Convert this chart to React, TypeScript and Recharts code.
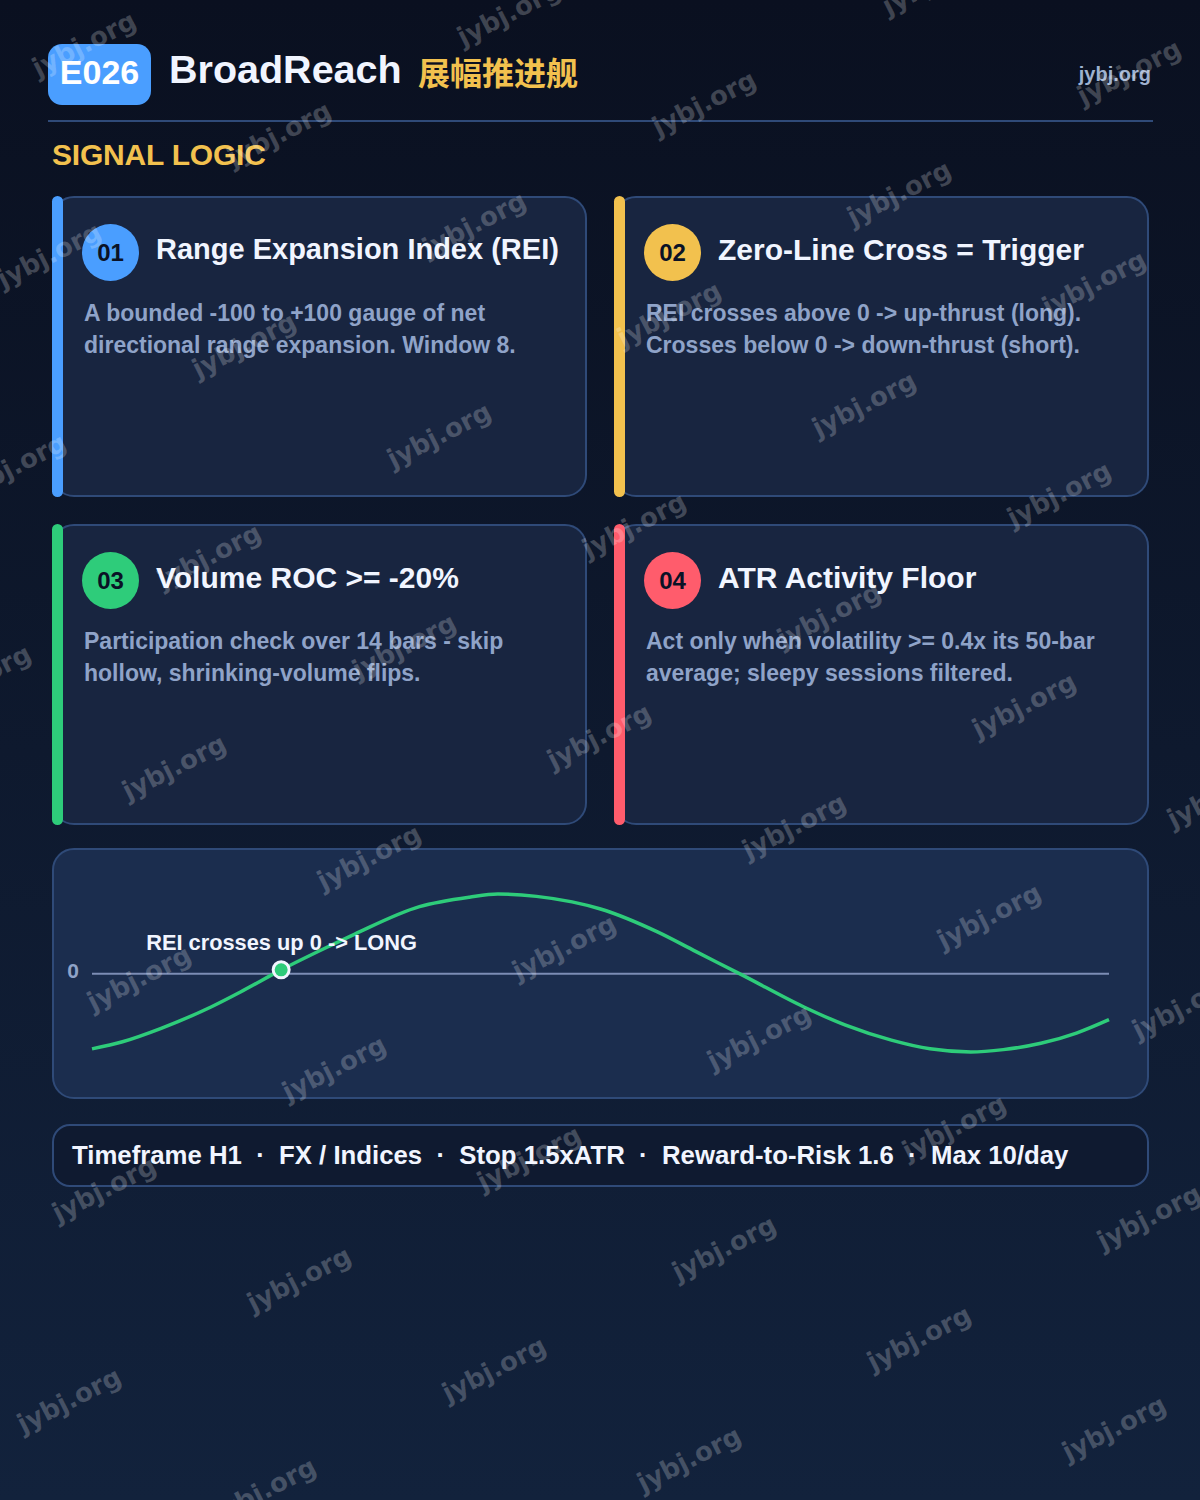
import { LineChart, Line, XAxis, YAxis, ReferenceLine, ReferenceDot, Label } from "recharts"

// REI curve: t is 0-100 across the panel, rei is the gauge value
const curveT = [0, 3, 6.8, 11.7, 14.6, 18.6, 23, 25.8, 32.2, 37.1, 39.9, 43.7, 47.2, 50, 55.6, 59.4, 64, 70, 74.1, 78.6, 82.4, 86.4, 89.6, 93.3, 96.8, 100]
const curveRei = [-95, -86, -69, -42, -23, 5, 33, 50, 85, 97, 101, 98, 91, 82, 53, 28, -2, -42, -65, -84, -95, -99, -96, -88, -75, -58]
const curveData = curveT.map((t, i) => ({ t, rei: curveRei[i] }))

const crossT = 18.6
const crossRei = 5
const yTicks = [0]

const cardNums = ["01", "02", "03", "04"]
const cardTitles = ["Range Expansion Index (REI)", "Zero-Line Cross = Trigger", "Volume ROC >= -20%", "ATR Activity Floor"]
const cardLines = [
  ["A bounded -100 to +100 gauge of net", "directional range expansion. Window 8."],
  ["REI crosses above 0 -> up-thrust (long).", "Crosses below 0 -> down-thrust (short)."],
  ["Participation check over 14 bars - skip", "hollow, shrinking-volume flips."],
  ["Act only when volatility >= 0.4x its 50-bar", "average; sleepy sessions filtered."],
]
const cardColors = ["#4a9eff", "#f2c14e", "#2ecc7a", "#ff5c6c"]
const footerItems = ["Timeframe H1", "FX / Indices", "Stop 1.5xATR", "Reward-to-Risk 1.6", "Max 10/day"]

const FONT = '"Liberation Sans", Arial, sans-serif'
const BORDER = "#2f4a78"

function Card({ index }: { index: number }) {
  const left = index % 2 === 0 ? 52 : 614
  const top = index < 2 ? 196 : 524
  return (
    <div style={{ position: "absolute", left, top, width: 535, height: 301 }}>
      <div style={{ position: "absolute", inset: 0, background: "#182540", border: "2px solid " + BORDER, borderRadius: 22, boxSizing: "border-box" }} />
      <div style={{ position: "absolute", left: 0, top: 0, width: 11, height: 301, background: cardColors[index], borderRadius: 6 }} />
      <div style={{ position: "absolute", left: 30, top: 28, width: 57, height: 57, borderRadius: 29, background: cardColors[index], color: "#0a1226", fontSize: 24, fontWeight: 700, lineHeight: "57px", textAlign: "center" }}>
        {cardNums[index]}
      </div>
      <div style={{ position: "absolute", left: 104, top: index === 0 ? 33 : 34, fontSize: index === 0 ? 29 : 30, fontWeight: 700, color: "#f1f5ff", lineHeight: "40px", whiteSpace: "nowrap" }}>
        {cardTitles[index]}
      </div>
      {cardLines[index].map((line, i) => (
        <div key={i} style={{ position: "absolute", left: 32, top: 101 + i * 32, fontSize: 23, fontWeight: 700, color: "#8fa3c8", lineHeight: "32px", whiteSpace: "nowrap" }}>
          {line}
        </div>
      ))}
    </div>
  )
}

function ReiChart() {
  return (
    <div style={{ position: "absolute", left: 52, top: 848, width: 1097, height: 251, background: "#1b2d4e", border: "2px solid " + BORDER, borderRadius: 22, boxSizing: "border-box" }}>
      <div style={{ position: "absolute", left: -2, top: -2 }}>
        <LineChart width={1097} height={250} data={curveData} margin={{ top: 46, right: 40, bottom: 46, left: 0 }}>
          <XAxis dataKey="t" type="number" domain={[0, 100]} hide />
          <YAxis
            type="number"
            domain={[-99, 101]}
            ticks={yTicks}
            width={40}
            axisLine={false}
            tickLine={false}
            tickMargin={7}
            tick={{ fill: "#8fa3c8", fontSize: 21, fontWeight: 700, fontFamily: FONT, dy: -3 }}
          />
          <ReferenceLine y={0} stroke="#7c8db5" strokeWidth={2} />
          <Line type="monotone" dataKey="rei" stroke="#2ecc7a" strokeWidth={3.5} dot={false} isAnimationActive={false} />
          <ReferenceDot x={crossT} y={crossRei} r={8} fill="#2ecc7a" stroke="#f1f5ff" strokeWidth={3}>
            <Label
              content={({ viewBox }: any) => (
                <text x={viewBox.x - 127} y={viewBox.y - 12} fill="#f1f5ff" fontSize={21.8} fontWeight={700} fontFamily={FONT}>
                  REI crosses up 0 -&gt; LONG
                </text>
              )}
            />
          </ReferenceDot>
        </LineChart>
      </div>
    </div>
  )
}

function Watermarks() {
  const marks = []
  for (let i = -4; i < 11; i++) {
    for (let j = -3; j < 9; j++) {
      const x = 84 + 195 * i - 35 * j
      const y = 44 + 90 * i + 211 * j
      if (x < -80 || x > 1280 || y < -40 || y > 1540) continue
      marks.push(
        <div key={i + "_" + j} style={{ position: "absolute", left: x - 100, top: y - 20, width: 200, height: 40, lineHeight: "40px", textAlign: "center", fontFamily: '"DejaVu Sans", sans-serif', fontSize: 26, fontWeight: 700, color: "rgba(255,255,255,0.22)", transform: "rotate(-27deg)", whiteSpace: "nowrap" }}>
          jybj.org
        </div>
      )
    }
  }
  return <div style={{ position: "absolute", left: 0, top: 0, width: 1200, height: 1500, overflow: "hidden", pointerEvents: "none" }}>{marks}</div>
}

export default function App() {
  return (
    <div style={{ position: "absolute", left: 0, top: 0, width: 1200, height: 1500, overflow: "hidden", fontFamily: FONT, background: "linear-gradient(180deg, #0a1020 0%, #12223c 100%)" }}>
      <div style={{ position: "absolute", left: 48, top: 44, width: 103, height: 61, background: "#4a9eff", borderRadius: 14, color: "#fff", fontSize: 34, fontWeight: 700, lineHeight: "57px", textAlign: "center" }}>E026</div>
      <div style={{ position: "absolute", left: 169, top: 44, fontSize: 39.5, fontWeight: 700, color: "#f1f5ff", lineHeight: "50px", whiteSpace: "nowrap" }}>BroadReach</div>
      <div style={{ position: "absolute", left: 418, top: 49, fontSize: 32, fontWeight: 700, color: "#f2c14e", lineHeight: "44px", whiteSpace: "nowrap", fontFamily: '"Noto Sans CJK SC", sans-serif' }}>展幅推进舰</div>
      <div style={{ position: "absolute", right: 49, top: 62, fontSize: 20, fontWeight: 700, color: "#9fb2d0", lineHeight: "24px" }}>jybj.org</div>
      <div style={{ position: "absolute", left: 48, top: 120, width: 1105, height: 2, background: BORDER }} />
      <div style={{ position: "absolute", left: 52, top: 136, fontSize: 30, fontWeight: 700, color: "#f2c14e", lineHeight: "38px", whiteSpace: "nowrap", letterSpacing: -0.2 }}>SIGNAL LOGIC</div>

      {cardNums.map((_, i) => <Card key={i} index={i} />)}

      <ReiChart />

      <div style={{ position: "absolute", left: 52, top: 1124, width: 1097, height: 63, background: "#0f1a30", border: "2px solid " + BORDER, borderRadius: 18, boxSizing: "border-box" }}>
        <div style={{ position: "absolute", left: 18, top: 0, fontSize: 25.75, fontWeight: 700, color: "#f1f5ff", lineHeight: "58px", whiteSpace: "pre" }}>
          {footerItems.join("  ·  ")}
        </div>
      </div>

      <Watermarks />
    </div>
  )
}
